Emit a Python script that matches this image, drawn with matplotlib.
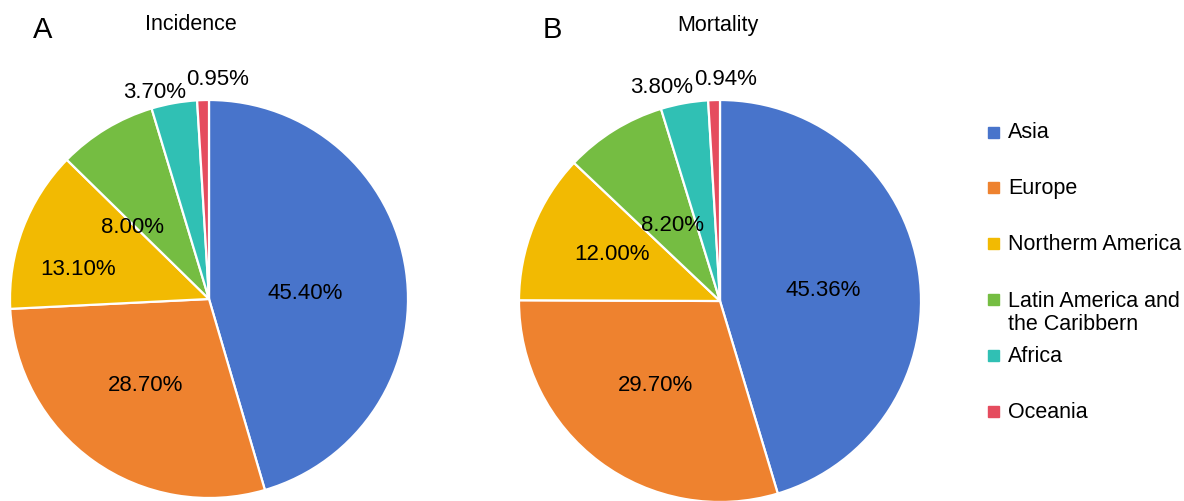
import numpy as np
import matplotlib.pyplot as plt

plt.rcParams['font.family'] = ['Liberation Sans', 'DejaVu Sans']

# regions and shares (%)
regions = ['Asia', 'Europe', 'Northerm America', 'Latin America and\nthe Caribbern',
           'Africa', 'Oceania']
incidence = [45.40, 28.70, 13.10, 8.00, 3.70, 0.95]
mortality = [45.36, 29.70, 12.00, 8.20, 3.80, 0.94]
inc_labels = ['45.40%', '28.70%', '13.10%', '8.00%', '3.70%', '0.95%']
mort_labels = ['45.36%', '29.70%', '12.00%', '8.20%', '3.80%', '0.94%']

colors = ['#4874CB', '#EE822F', '#F2BA02', '#75BD42', '#30C0B4', '#E54C5E']

# label placement per slice: (radius, angle shift in degrees)
inc_pos = [(0.485, -4), (0.535, -1), (0.675, 7.5), (0.53, 15.7), (1.075, 4.5), (1.107, -4)]
mort_pos = [(0.515, -2), (0.525, -1), (0.59, -2), (0.45, 0), (1.108, 4.9), (1.105, -3)]

W, H = 1184, 502
fig = plt.figure(figsize=(W / 100, H / 100), dpi=100)


def draw_pie(cx, cy, r, vals, labels, pos, title, letter, tx, lx):
    ax = fig.add_axes([(cx - r) / W, (H - cy - r) / H, 2 * r / W, 2 * r / H])
    wedges, _ = ax.pie(vals, colors=colors, startangle=90, counterclock=False,
                       radius=1.0, wedgeprops=dict(edgecolor='white', linewidth=1.6))
    for w, lab, (d, shift) in zip(wedges, labels, pos):
        ang = np.deg2rad((w.theta1 + w.theta2) / 2 + shift)
        ax.text(d * np.cos(ang), d * np.sin(ang), lab, ha='center', va='center',
                fontsize=16)
    ax.set_xlim(-1, 1)
    ax.set_ylim(-1, 1)
    ax.set_aspect('equal')
    ax.axis('off')
    fig.text(tx / W, 1 - 25 / H, title, ha='center', va='center', fontsize=15.5)
    fig.text(lx / W, 1 - 30 / H, letter, ha='center', va='center', fontsize=21)
    return wedges


draw_pie(209, 300, 199, incidence, inc_labels, inc_pos, 'Incidence', 'A', 191, 43)
draw_pie(720, 302, 201, mortality, mort_labels, mort_pos, 'Mortality', 'B', 718, 552)

# legend drawn by hand so the two-line entry keeps the even spacing
for i, (name, c) in enumerate(zip(regions, colors)):
    y = 133 + 55.8 * i
    n_lines = name.count('\n') + 1
    fig.patches.append(plt.Rectangle((988 / W, 1 - (y + 5.5) / H), 11 / W, 11 / H,
                                     color=c, transform=fig.transFigure, figure=fig))
    fig.text(1008 / W, 1 - (y + 12.5 * (n_lines - 1)) / H, name, ha='left',
             va='center', fontsize=15.5, linespacing=1.15)

fig.savefig('out.png', dpi=100)
